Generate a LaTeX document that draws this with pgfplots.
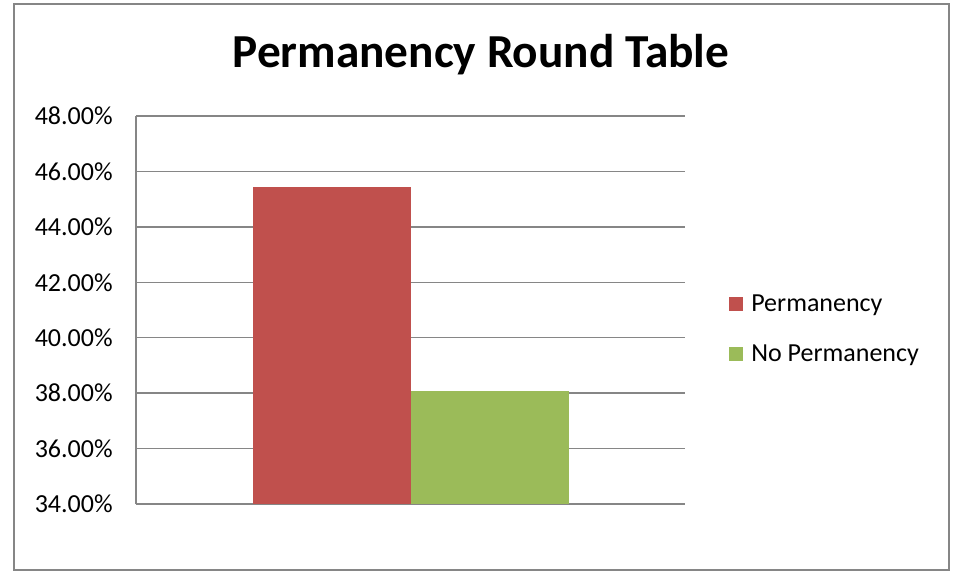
\documentclass[border=0pt]{standalone}
\usepackage{fontspec}
\setmainfont{Carlito}
\usepackage{pgfplots}
\pgfplotsset{compat=1.18}
\definecolor{exred}{HTML}{C0504D}
\definecolor{exgreen}{HTML}{9BBB59}
\definecolor{exgrid}{HTML}{868686}
\begin{document}
\begin{tikzpicture}
\useasboundingbox (0,0) rectangle (715.5pt,429pt);
\draw[exgrid, line width=1.5pt] (10.5pt,1.5pt) rectangle (711.75pt,426pt);
\node[font=\fontsize{35.5}{40}\selectfont\bfseries, anchor=center] at (360.75pt,387.75pt) {Permanency Round Table};
\begin{axis}[
  at={(102pt,51pt)}, anchor=south west,
  width=411.75pt, height=291pt, scale only axis,
  xmin=136, xmax=685,
  ymin=34, ymax=48,
  ytick={34,36,38,40,42,44,46,48},
  xtick=\empty,
  ymajorgrids,
  grid style={exgrid, line width=1pt},
  axis x line*=bottom, axis y line*=left,
  axis line style={exgrid, line width=1pt, -},
  major tick length=0pt,
  /pgf/number format/assume math mode=true,
  yticklabel={\pgfmathprintnumber[fixed,fixed zerofill,precision=2]{\tick}\%},
  yticklabel style={font=\fontsize{19.5}{22}\selectfont, xshift=-14pt},
  ybar, bar width=118.5pt,
  legend style={at={(axis description cs:1.079,0.451)}, anchor=west, draw=none, fill=none,
    font=\fontsize{19.5}{22}\selectfont, row sep=19pt, inner sep=0pt},
  legend cell align=left,
  legend image code/.code={\fill[#1] (0pt,-5.25pt) rectangle (10.5pt,5.25pt); \path (0pt,0pt) (15pt,0pt);},
]
\addplot[fill=exred, draw=none, bar shift=0pt] coordinates {(332,45.44)};
\addlegendentry{Permanency}
\addplot[fill=exgreen, draw=none, bar shift=0pt] coordinates {(490,38.07)};
\addlegendentry{No Permanency}
\end{axis}
\end{tikzpicture}
\end{document}
